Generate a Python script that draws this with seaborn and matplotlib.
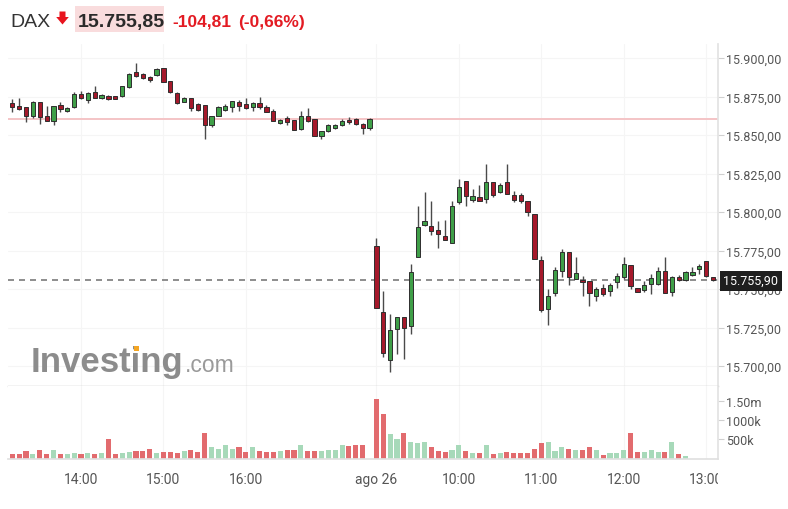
import numpy as np
import pandas as pd
import matplotlib
matplotlib.use("Agg")
import matplotlib.pyplot as plt
from matplotlib.patches import Rectangle, Polygon
from matplotlib.transforms import Bbox
import seaborn as sns

# ---------------------------------------------------------------
# Data: 5-minute DAX candles (13:10-17:30 day 1, 09:00-13:05 ago 26)
# ---------------------------------------------------------------
opens = [
    15870.6, 15868.6, 15867.9, 15862.5, 15871.2, 15862.1, 15859.3, 15869.5, 15865.4, 15867.9,
    15876.4, 15872.9, 15878.1, 15874.0, 15875.5, 15875.1, 15875.1, 15880.9, 15891.1, 15889.6,
    15887.4, 15888.9, 15893.3, 15885.3, 15877.0, 15871.6, 15873.8, 15870.3, 15869.2, 15856.5,
    15862.5, 15866.4, 15868.4, 15871.6, 15869.9, 15867.9, 15870.8, 15867.9, 15865.8, 15857.8,
    15860.8, 15859.7, 15853.9, 15862.1, 15860.4, 15849.5, 15852.8, 15854.5, 15856.7, 15859.9,
    15860.4, 15857.3, 15854.5,
    15777.7, 15734.8, 15704.1, 15724.0, 15731.6, 15726.2, 15771.0, 15791.5, 15790.7, 15788.5,
    15784.2, 15779.8, 15806.3, 15819.9, 15808.0, 15809.5, 15808.4, 15819.2, 15812.8, 15819.2,
    15811.0, 15811.0, 15806.9, 15798.7, 15768.8, 15737.0, 15747.4, 15761.9, 15773.8, 15756.5,
    15755.8, 15755.0, 15745.2, 15750.4, 15748.9, 15754.7, 15757.5, 15765.6, 15750.4, 15749.3,
    15753.2, 15753.2, 15761.4, 15747.8, 15757.5, 15755.8, 15759.1, 15763.0, 15767.9, 15757.5,
]
highs = [
    15873.4, 15873.8, 15868.2, 15872.3, 15871.6, 15869.0, 15869.0, 15871.6, 15868.2, 15877.7,
    15878.8, 15878.1, 15881.6, 15876.4, 15876.0, 15875.5, 15882.0, 15890.2, 15896.8, 15890.2,
    15888.5, 15893.3, 15893.3, 15885.3, 15877.7, 15874.4, 15873.8, 15870.8, 15869.7, 15862.5,
    15869.0, 15870.1, 15872.3, 15872.9, 15873.8, 15871.2, 15874.9, 15869.5, 15866.9, 15860.4,
    15862.1, 15860.0, 15865.8, 15867.3, 15860.6, 15852.8, 15857.1, 15857.1, 15860.4, 15861.4,
    15860.8, 15858.0, 15861.0,
    15782.9, 15748.9, 15733.7, 15731.6, 15731.6, 15766.2, 15803.7, 15812.7, 15807.3, 15794.3,
    15795.0, 15807.3, 15821.4, 15819.9, 15814.9, 15817.5, 15831.2, 15819.2, 15818.6, 15831.2,
    15813.8, 15812.3, 15806.9, 15798.7, 15771.2, 15750.0, 15764.0, 15775.9, 15773.8, 15770.5,
    15758.6, 15755.0, 15751.1, 15753.2, 15753.9, 15760.4, 15771.0, 15765.6, 15750.4, 15755.4,
    15759.7, 15764.0, 15771.0, 15758.6, 15759.1, 15761.4, 15764.0, 15766.2, 15767.9, 15757.5,
]
lows = [
    15864.7, 15866.5, 15858.2, 15860.8, 15857.1, 15859.3, 15856.5, 15864.7, 15864.7, 15867.3,
    15873.4, 15870.8, 15874.0, 15873.6, 15873.0, 15873.2, 15874.4, 15880.3, 15887.4, 15886.5,
    15884.5, 15888.5, 15884.2, 15877.3, 15870.1, 15871.2, 15865.8, 15865.8, 15847.4, 15855.0,
    15862.1, 15865.4, 15864.7, 15865.8, 15866.9, 15865.6, 15866.9, 15864.7, 15858.8, 15857.1,
    15856.5, 15853.0, 15853.4, 15858.2, 15849.5, 15847.4, 15851.7, 15854.0, 15856.0, 15857.1,
    15856.7, 15850.6, 15853.4,
    15737.6, 15705.6, 15695.9, 15707.7, 15704.5, 15720.7, 15771.0, 15791.0, 15785.0, 15776.6,
    15782.0, 15779.8, 15805.2, 15804.1, 15806.3, 15807.3, 15805.8, 15809.5, 15812.1, 15811.7,
    15806.7, 15805.6, 15797.6, 15769.5, 15734.8, 15726.6, 15745.6, 15757.5, 15752.6, 15756.5,
    15745.6, 15739.1, 15742.4, 15745.6, 15745.2, 15750.4, 15756.5, 15750.0, 15747.8, 15748.2,
    15746.7, 15752.6, 15747.4, 15745.2, 15755.0, 15755.0, 15758.6, 15759.7, 15757.5, 15755.0,
]
closes = [
    15868.4, 15866.9, 15862.5, 15871.2, 15861.5, 15859.3, 15868.6, 15866.9, 15867.3, 15876.6,
    15873.8, 15877.3, 15874.0, 15875.9, 15873.4, 15873.4, 15881.6, 15889.6, 15888.1, 15887.0,
    15885.7, 15892.9, 15884.6, 15878.1, 15870.8, 15873.8, 15867.3, 15866.4, 15856.7, 15862.1,
    15868.4, 15869.0, 15872.1, 15869.0, 15867.7, 15870.6, 15868.4, 15865.1, 15859.3, 15859.9,
    15858.2, 15853.4, 15862.1, 15858.8, 15849.5, 15852.4, 15856.5, 15856.5, 15859.3, 15858.2,
    15857.1, 15854.7, 15860.4,
    15737.6, 15708.4, 15723.3, 15731.6, 15724.6, 15760.8, 15790.0, 15794.3, 15787.9, 15785.5,
    15782.0, 15803.7, 15816.0, 15810.2, 15810.2, 15807.3, 15819.2, 15811.0, 15817.5, 15811.7,
    15808.0, 15807.3, 15800.2, 15769.5, 15736.3, 15745.6, 15762.3, 15773.8, 15757.5, 15760.4,
    15754.3, 15747.4, 15750.0, 15746.7, 15752.6, 15758.2, 15766.2, 15751.7, 15748.2, 15752.6,
    15756.9, 15761.9, 15747.4, 15757.5, 15755.8, 15760.8, 15760.8, 15765.1, 15758.6, 15755.9,
]
# volume in thousands
volumes = [
    104, 104, 199, 104, 233, 104, 233, 104, 104, 130,
    104, 130, 104, 130, 518, 104, 130, 173, 199, 199,
    259, 138, 173, 173, 138, 199, 233, 173, 656, 285,
    242, 362, 242, 302, 173, 285, 199, 173, 173, 199,
    233, 233, 362, 199, 199, 199, 233, 233, 362, 328,
    362, 362, 0,
    1536, 1148, 630, 500, 656, 432, 414, 432, 302, 199,
    173, 233, 362, 199, 138, 138, 362, 104, 138, 173,
    138, 138, 138, 259, 397, 432, 199, 285, 259, 233,
    233, 302, 233, 86, 138, 138, 233, 656, 173, 173,
    233, 173, 173, 432, 104, 69, 0, 0, 0, 0,
]
tick_slots = [10, 22, 34, 53, 65, 77, 89, 101]
tick_labels = ["14:00", "15:00", "16:00", "ago 26", "10:00", "11:00", "12:00", "13:00"]
price_ticks = [15700, 15725, 15750, 15775, 15800, 15825, 15850, 15875, 15900]
vol_ticks = [500, 1000, 1500]
vol_tick_labels = ["500k", "1000k", "1.50m"]
prev_close = 15860.66
last_price = 15755.90

# ---------------------------------------------------------------
# Style
# ---------------------------------------------------------------
RED_BODY = "#a5192b"
GREEN_BODY = "#3f9f48"
EDGE = "#2e2e2e"
WICK = "#4a4a4a"
VOL_DOWN = "#e26b6e"
VOL_UP = "#a7d9b9"
W, H = 788, 510

sns.set_theme(style="white")
plt.rcParams["font.family"] = ["Roboto", "DejaVu Sans"]


def fx(px):
    return px / W


def fy(py):
    return 1 - py / H


opens = np.array(opens)
highs = np.array(highs)
lows = np.array(lows)
closes = np.array(closes)
slots = np.arange(len(opens))
up = closes >= opens

fig = plt.figure(figsize=(W / 100, H / 100), dpi=100)
fig.patch.set_facecolor("white")

LEFT, RIGHT = 8, 718
ax_p = fig.add_axes([fx(LEFT), fy(387), (RIGHT - LEFT) / W, (387 - 45) / H])
ax_v = fig.add_axes([fx(LEFT), fy(459.5), (RIGHT - LEFT) / W, (459.5 - 387) / H])
xlim = ((LEFT - 12.3) / 6.87, (RIGHT - 12.3) / 6.87)

# ---------------------------------------------------------------
# Price panel
# ---------------------------------------------------------------
ax_p.vlines(slots, lows, highs, color=WICK, lw=1.0, zorder=3)
body_bottom = np.minimum(opens, closes)
body_h = np.maximum(np.abs(closes - opens), 0.9)
ax_p.bar(slots, body_h, bottom=body_bottom, width=0.62,
         color=np.where(up, GREEN_BODY, RED_BODY), edgecolor=EDGE, linewidth=0.7, zorder=4)

ax_p.axhline(prev_close, color="#f4c4c6", lw=1.4, zorder=1)
ax_p.axhline(last_price, color="#7a7a7a", lw=1.2, dashes=(3.6, 3.0), zorder=2)

ax_p.set_xlim(*xlim)
ax_p.set_ylim(15900 - (387 - 59) / 1.54, 15900 + (59 - 45) / 1.54)
ax_p.yaxis.tick_right()
ax_p.set_yticks(price_ticks)
ax_p.set_yticklabels([f"{v:,.2f}".replace(",", "X").replace(".", ",").replace("X", ".") for v in price_ticks])
ax_p.set_xticks(tick_slots)
ax_p.tick_params(axis="x", length=0, labelbottom=False)
ax_p.tick_params(axis="y", length=4, width=0.8, color="#d0d0d0", pad=2, labelsize=9, labelcolor="#555555")
ax_p.grid(True, color="#f5f5f5", lw=0.8)
for side in ["top", "left"]:
    ax_p.spines[side].set_visible(False)
ax_p.spines["right"].set_color("#e3e3e3")
ax_p.spines["bottom"].set_color("#c4c4c4")
ax_p.spines["bottom"].set_linewidth(1.0)

# ---------------------------------------------------------------
# Volume panel
# ---------------------------------------------------------------
vol_df = pd.DataFrame({"slot": slots, "vol": volumes, "dir": np.where(up, "up", "down")})
vol_df = vol_df[vol_df["vol"] > 0]
sns.barplot(data=vol_df, x="slot", y="vol", hue="dir", palette={"up": VOL_UP, "down": VOL_DOWN},
            native_scale=True, dodge=False, width=0.74, saturation=1, errorbar=None,
            legend=False, linewidth=0, ax=ax_v)
ax_v.set_xlim(*xlim)
ax_v.set_ylim(0, (459.5 - 387) / 19.3 * 500)
ax_v.set_xlabel("")
ax_v.set_ylabel("")
ax_v.yaxis.tick_right()
ax_v.set_yticks(vol_ticks)
ax_v.set_yticklabels(vol_tick_labels)
ax_v.set_xticks(tick_slots)
ax_v.set_xticklabels(tick_labels)
ax_v.tick_params(axis="y", length=4, width=0.8, color="#d0d0d0", pad=2, labelsize=9, labelcolor="#555555")
ax_v.tick_params(axis="x", length=6, width=0.8, color="#dddddd", pad=4, labelsize=10, labelcolor="#555555")
ax_v.grid(True, axis="x", color="#f5f5f5", lw=0.8)
for side in ["top", "left"]:
    ax_v.spines[side].set_visible(False)
ax_v.spines["right"].set_color("#e3e3e3")
ax_v.spines["bottom"].set_color("#e0e0e0")

# last tick label is cut by the panel edge in the original
clip = Bbox.from_extents(0, 0, RIGHT, H)
for lab in ax_v.get_xticklabels():
    lab.set_clip_box(clip)
    lab.set_clip_on(True)

# current price badge
fig.text(fx(723), fy(281.5), "15.755,90", fontsize=9, color="white", va="center", ha="left",
         bbox=dict(boxstyle="square,pad=0.28", fc="#1e1e1e", ec="none"), zorder=10)

# ---------------------------------------------------------------
# Header
# ---------------------------------------------------------------
title_font = ["Liberation Sans", "DejaVu Sans"]
fig.text(fx(10), fy(26.7), "DAX", fontsize=14, color="#333333", va="baseline", family=title_font)
arrow = Polygon([[fx(59.5), fy(12.5)], [fx(65.5), fy(12.5)], [fx(65.5), fy(18)], [fx(68.8), fy(18)],
                 [fx(62.5), fy(25.5)], [fx(56.2), fy(18)], [fx(59.5), fy(18)]],
                closed=True, transform=fig.transFigure, fc="#e8141e", ec="none")
fig.patches.append(arrow)
fig.patches.append(Rectangle((fx(75), fy(32.7)), (164 - 75) / W, 26 / H, transform=fig.transFigure,
                             fc="#f9dcdd", ec="none"))
fig.text(fx(78), fy(26.7), "15.755,85", fontsize=14, fontweight="bold", color="#2a2a2a",
         va="baseline", family=title_font)
fig.text(fx(172), fy(26.7), "-104,81", fontsize=12.5, fontweight="bold", color="#e31b23",
         va="baseline", family=title_font)
fig.text(fx(238), fy(26.7), "(-0,66%)", fontsize=12.5, fontweight="bold", color="#e31b23",
         va="baseline", family=title_font)

# watermark
wm_props = dict(fontsize=25, fontweight="bold", va="baseline", family=title_font)
wm = fig.text(fx(31), fy(372), "Investing", color="#8c8c8c", zorder=0.5, **wm_props)
fig.canvas.draw()
wm_box = wm.get_window_extent()
fig.text((wm_box.x1 + 1) / W, fy(372), ".com", fontsize=16.5, color="#9a9a9a", va="baseline",
         family=title_font, zorder=0.5)

# orange dot on the "i" of the logo
probe_a = fig.text(fx(31), fy(372), "Invest", alpha=0, **wm_props)
probe_b = fig.text(fx(31), fy(372), "Investi", alpha=0, **wm_props)
fig.canvas.draw()
xa = probe_a.get_window_extent().x1
xb = probe_b.get_window_extent().x1
dot_c = (xa + xb) / 2
dot_w = 5.2
cap_top = wm_box.y1 - 0.5
fig.patches.append(Rectangle(((dot_c - dot_w / 2) / W, (cap_top - 5.4) / H), dot_w / W, 5.4 / H,
                             transform=fig.transFigure, fc="#f5a623", ec="none", zorder=0.6))

fig.savefig("out.png", dpi=100)
